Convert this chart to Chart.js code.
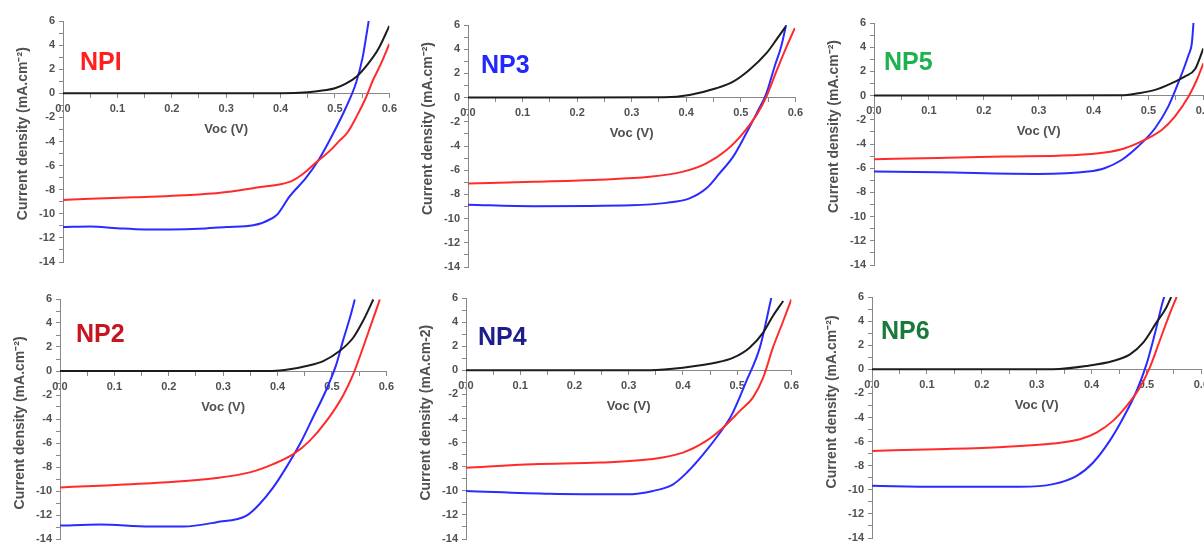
<!DOCTYPE html>
<html lang="en">
  <head>
    <meta charset="UTF-8" />
    <meta name="viewport" content="width=device-width, initial-scale=1.0" />
    <title>Curvas J-V NP1 - NP6</title>
    <script src="https://cdn.jsdelivr.net/npm/chart.js"></script>
    <style>
      html, body { margin: 0; padding: 0; background: #fff; overflow: hidden; }
      #fig { position: relative; width: 1204px; height: 542px; overflow: hidden; }
      .panel { position: absolute; }
      .tag {
        position: absolute;
        font: bold 25px "Liberation Sans", Arial, sans-serif;
        line-height: 25px;
        white-space: nowrap;
      }
    </style>
  </head>
  <body>
    <div id="fig"></div>

    <script>
      // each point is [Voc (V), current density (mA.cm-2)]
      // black = dark curve, red / blue = the two illuminated devices

      // NPI
      const np1Black = [[0, 0], [0.2, 0], [0.4, 0], [0.45, 0.08], [0.48, 0.25], [0.5, 0.42], [0.52, 0.8], [0.54, 1.4], [0.56, 2.4], [0.58, 3.7], [0.6, 5.6]];
      const np1Red = [[0, -8.85], [0.05, -8.75], [0.13, -8.63], [0.25, -8.4], [0.31, -8.15], [0.36, -7.8], [0.4, -7.55], [0.422, -7.25], [0.441, -6.7], [0.465, -5.75], [0.49, -4.8], [0.508, -3.95], [0.523, -3.25], [0.539, -2.0], [0.557, -0.35], [0.569, 1.0], [0.584, 2.4], [0.6, 4.1]];
      const np1Blue = [[0, -11.1], [0.05, -11.05], [0.1, -11.2], [0.15, -11.3], [0.2, -11.3], [0.25, -11.25], [0.3, -11.1], [0.35, -10.95], [0.385, -10.35], [0.395, -10.0], [0.416, -8.6], [0.447, -7.0], [0.471, -5.45], [0.496, -3.4], [0.52, -1.2], [0.539, 0.9], [0.551, 3.0], [0.557, 4.6], [0.562, 6.0]];

      // NP3
      const np3Black = [[0, 0], [0.2, 0], [0.36, 0.02], [0.406, 0.22], [0.455, 0.77], [0.486, 1.32], [0.516, 2.3], [0.547, 3.67], [0.565, 4.77], [0.582, 5.85]];
      const np3Red = [[0, -7.1], [0.12, -6.95], [0.24, -6.78], [0.333, -6.55], [0.394, -6.12], [0.437, -5.43], [0.474, -4.33], [0.504, -2.95], [0.529, -1.43], [0.547, 0.08], [0.565, 2.15], [0.584, 4.22], [0.599, 5.74]];
      const np3Blue = [[0, -8.85], [0.12, -8.97], [0.3, -8.9], [0.364, -8.7], [0.406, -8.33], [0.437, -7.5], [0.461, -6.26], [0.486, -4.88], [0.51, -2.95], [0.529, -1.3], [0.547, 0.36], [0.562, 2.57], [0.574, 4.22], [0.583, 6.0]];

      // NP5
      const np5Black = [[0, 0], [0.25, 0], [0.45, 0.02], [0.481, 0.19], [0.512, 0.47], [0.542, 1.02], [0.566, 1.57], [0.585, 2.2], [0.6, 3.9]];
      const np5Red = [[0, -5.26], [0.116, -5.15], [0.238, -5.04], [0.359, -4.93], [0.42, -4.71], [0.457, -4.35], [0.493, -3.66], [0.524, -2.84], [0.548, -1.74], [0.573, -0.08], [0.588, 1.29], [0.6, 2.67]];
      const np5Blue = [[0, -6.28], [0.116, -6.34], [0.298, -6.47], [0.39, -6.28], [0.42, -6.0], [0.451, -5.32], [0.481, -4.21], [0.512, -2.7], [0.536, -0.91], [0.554, 1.02], [0.573, 3.36], [0.579, 4.32], [0.582, 6.0]];

      // NP2
      const np2Black = [[0, 0], [0.2, 0], [0.39, 0.01], [0.422, 0.14], [0.453, 0.42], [0.484, 0.83], [0.514, 1.66], [0.539, 2.77], [0.557, 4.16], [0.576, 5.96]];
      const np2Red = [[0, -9.7], [0.073, -9.56], [0.196, -9.28], [0.288, -8.92], [0.349, -8.45], [0.392, -7.76], [0.429, -6.93], [0.459, -5.82], [0.49, -4.16], [0.52, -2.08], [0.539, -0.28], [0.557, 1.94], [0.572, 3.88], [0.588, 5.96]];
      const np2Blue = [[0, -12.88], [0.073, -12.8], [0.165, -12.96], [0.227, -12.96], [0.288, -12.6], [0.343, -12.05], [0.367, -11.08], [0.392, -9.7], [0.416, -8.03], [0.441, -6.09], [0.465, -3.88], [0.49, -1.52], [0.508, 0.55], [0.52, 2.49], [0.533, 4.43], [0.542, 5.96]];

      // NP4
      const np4Black = [[0, 0], [0.2, 0], [0.34, 0.01], [0.4, 0.22], [0.462, 0.64], [0.493, 1.05], [0.523, 1.88], [0.548, 3.13], [0.566, 4.51], [0.585, 5.75]];
      const np4Red = [[0, -8.08], [0.124, -7.8], [0.247, -7.66], [0.339, -7.39], [0.4, -6.83], [0.443, -5.86], [0.474, -4.76], [0.505, -3.37], [0.529, -2.27], [0.548, -0.61], [0.566, 1.88], [0.585, 4.09], [0.6, 5.89]];
      const np4Blue = [[0, -10.01], [0.155, -10.24], [0.296, -10.29], [0.345, -10.01], [0.382, -9.46], [0.407, -8.5], [0.437, -7.0], [0.468, -5.2], [0.49, -3.7], [0.517, -0.9], [0.542, 1.9], [0.563, 6.0]];

      // NP6
      const np6Black = [[0, 0], [0.2, 0], [0.33, 0.01], [0.391, 0.28], [0.439, 0.69], [0.47, 1.24], [0.494, 2.21], [0.518, 3.87], [0.536, 5.11], [0.545, 6.0]];
      const np6Red = [[0, -6.77], [0.118, -6.63], [0.239, -6.44], [0.33, -6.16], [0.379, -5.8], [0.409, -5.25], [0.439, -4.28], [0.464, -3.04], [0.488, -1.52], [0.506, 0.14], [0.524, 2.35], [0.542, 4.56], [0.555, 6.0]];
      const np6Blue = [[0, -9.67], [0.118, -9.75], [0.27, -9.75], [0.33, -9.53], [0.373, -8.84], [0.403, -7.73], [0.433, -5.94], [0.458, -4.0], [0.482, -1.8], [0.5, 0.41], [0.515, 2.9], [0.53, 5.66], [0.533, 6.08]];

      const panelNames = ["NPI", "NP3", "NP5", "NP2", "NP4", "NP6"];
      const yTitles = [
        "Current density (mA.cm⁻²)",
        "Current density (mA.cm⁻²)",
        "Current density (mA.cm⁻²)",
        "Current density (mA.cm⁻²)",
        "Current density (mA.cm-2)",
        "Current density (mA.cm⁻²)",
      ];
      const xTitle = "Voc (V)";
      const series = [
        [np1Black, np1Red, np1Blue],
        [np3Black, np3Red, np3Blue],
        [np5Black, np5Red, np5Blue],
        [np2Black, np2Red, np2Blue],
        [np4Black, np4Red, np4Blue],
        [np6Black, np6Red, np6Blue],
      ];

      // where each plot area sits on the page (px) + label placement
      const panels = [
        { L: 63, R: 390, T: 21, B: 262, tagX: 80, tagY: 49, tagColor: "#ff1f1f", shift: 8 },
        { L: 468, R: 796, T: 25, B: 267, tagX: 481, tagY: 52, tagColor: "#2128ff", shift: 18 },
        { L: 874, R: 1204, T: 23, B: 265, tagX: 884, tagY: 49, tagColor: "#1db150", shift: 17 },
        { L: 60, R: 387, T: 299, B: 539, tagX: 76, tagY: 321, tagColor: "#c8141e", shift: -4 },
        { L: 466, R: 792, T: 298, B: 539, tagX: 478, tagY: 324, tagColor: "#1d1d8c", shift: 5 },
        { L: 872, R: 1202, T: 297, B: 538, tagX: 881, tagY: 318, tagColor: "#1a7a3c", shift: 16 },
      ];

      const AXIS_W = 52;
      const AXIS_H = 44; // only used to place the "Voc (V)" title under the zero line
      const PAD_TOP = 12;
      const PAD_BOTTOM = 12;
      const PAD_RIGHT = 12;
      const FAMILY = "'Liberation Sans', Arial, sans-serif";
      const lineColors = ["#1c1c1c", "#ff2b2b", "#2b2bff"];

      const fig = document.getElementById("fig");

      // vertical titles are not centred on the axis in the figure: pad with spaces
      const shiftTitle = (text, px) => {
        const n = Math.round((Math.abs(px) * 2) / 3.9);
        return px > 0 ? " ".repeat(n) + text : text + " ".repeat(n);
      };

      panels.forEach((p, i) => {
        const box = document.createElement("div");
        box.className = "panel";
        box.style.left = p.L - AXIS_W + "px";
        box.style.top = p.T - PAD_TOP + "px";
        box.style.width = AXIS_W + (p.R - p.L) + PAD_RIGHT + "px";
        box.style.height = PAD_TOP + (p.B - p.T) + PAD_BOTTOM + "px";
        const canvas = document.createElement("canvas");
        box.appendChild(canvas);
        fig.appendChild(box);

        const tag = document.createElement("div");
        tag.className = "tag";
        tag.textContent = panelNames[i];
        tag.style.left = p.tagX + "px";
        tag.style.top = p.tagY + "px";
        tag.style.color = p.tagColor;
        fig.appendChild(tag);

        new Chart(canvas, {
          type: "line",
          data: {
            datasets: series[i].map((d, k) => ({
              data: d,
              borderColor: lineColors[k],
              borderWidth: 2,
              pointRadius: 0,
              cubicInterpolationMode: "monotone",
            })),
          },
          options: {
            responsive: true,
            maintainAspectRatio: false,
            animation: false,
            layout: { padding: { top: PAD_TOP, right: PAD_RIGHT, left: 0, bottom: PAD_BOTTOM } },
            plugins: { legend: { display: false }, tooltip: { enabled: false } },
            scales: {
              x: {
                type: "linear",
                position: { y: 0 },
                min: 0,
                max: 0.6,
                afterFit: (s) => { s.height = AXIS_H; },
                grid: { drawOnChartArea: false, tickLength: 4, tickColor: "#888" },
                border: { color: "#888", width: 1 },
                ticks: {
                  stepSize: 0.05,
                  maxTicksLimit: 100,
                  autoSkip: false,
                  maxRotation: 0,
                  padding: 5,
                  color: "#505050",
                  font: { family: FAMILY, size: 11, weight: "bold" },
                  callback: (v) => (Math.abs(v * 10 - Math.round(v * 10)) < 1e-6 ? v.toFixed(1) : ""),
                },
                title: {
                  display: true,
                  text: xTitle,
                  color: "#505050",
                  padding: 0,
                  font: { family: FAMILY, size: 13, weight: "bold" },
                },
              },
              y: {
                position: "left",
                min: -14,
                max: 6,
                afterFit: (s) => { s.width = AXIS_W; },
                grid: { drawOnChartArea: false, tickLength: 4, tickColor: "#888" },
                border: { color: "#888", width: 1 },
                ticks: {
                  stepSize: 1,
                  maxTicksLimit: 100,
                  autoSkip: false,
                  padding: 4,
                  color: "#505050",
                  font: { family: FAMILY, size: 11, weight: "bold" },
                  callback: (v) => (v % 2 === 0 ? String(v) : ""),
                },
                title: {
                  display: true,
                  text: shiftTitle(yTitles[i], p.shift),
                  color: "#505050",
                  padding: { top: 4, bottom: 0 },
                  font: { family: FAMILY, size: 14, weight: "bold" },
                },
              },
            },
          },
        });
      });
    </script>
  </body>
</html>
